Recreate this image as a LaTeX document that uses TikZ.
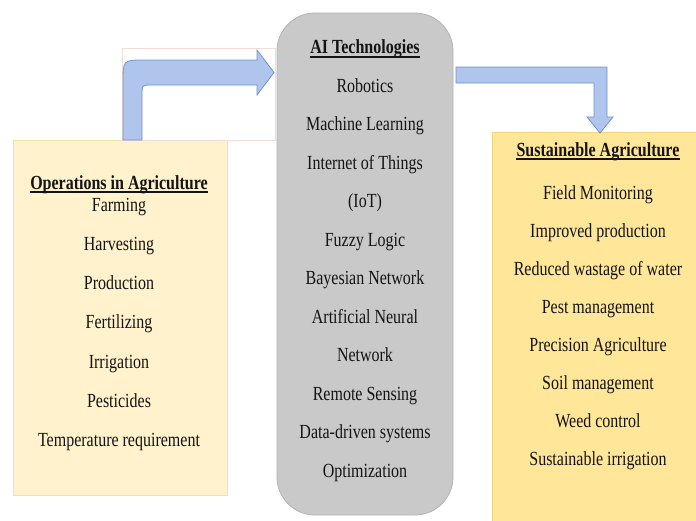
\documentclass[tikz,border=0pt]{standalone}
\usepackage{fontspec}
\setmainfont{Liberation Serif}[FakeStretch=0.8]
\usepackage{xcolor}
\usetikzlibrary{positioning}

\definecolor{opfill}{HTML}{FFF2CC}
\definecolor{opline}{HTML}{F2E2A6}
\definecolor{susfill}{HTML}{FFE699}
\definecolor{susline}{HTML}{F2D47E}
\definecolor{techfill}{HTML}{C9C9C9}
\definecolor{techline}{HTML}{B3B3B3}
\definecolor{arrfill}{HTML}{AFC5EC}
\definecolor{arrline}{HTML}{7392CB}
\definecolor{framecol}{HTML}{F3DDD4}
\definecolor{txt}{HTML}{141414}

\begin{document}
\begin{tikzpicture}[x=1pt, y=-1pt,
    item/.style={font=\fontsize{20}{23}\selectfont, text=txt, inner sep=0pt, anchor=base},
    head/.style={item, font=\fontsize{20}{23}\selectfont\bfseries},
    uline/.style={line width=1.3pt, draw=txt},
    bentarrow/.style={fill=arrfill, draw=arrline, line width=0.8pt, line join=miter}]

  \useasboundingbox (0,0) rectangle (696,520);

  % Left block: operations in agriculture
  \filldraw[fill=opfill, draw=opline, line width=0.8pt] (13,140) rectangle (227,495);
  \node[head] (ophead) at (119,189) {Operations in Agriculture};
  \draw[uline] ([yshift=-3pt]ophead.base west) -- ([yshift=-3pt]ophead.base east);
  \foreach \txt [count=\i from 0] in {Farming, Harvesting, Production, Fertilizing,
      Irrigation, Pesticides, Temperature requirement}
    \node[item] (op\i) at (119,{211+39.3*\i}) {\txt};

  % Middle block: AI technologies
  \filldraw[fill=techfill, draw=techline, line width=0.8pt, rounded corners=38pt]
    (277,13) rectangle (453,515);
  \node[head] (aihead) at (365,53) {AI Technologies};
  \draw[uline] ([yshift=-4pt]aihead.base west) -- ([yshift=-4pt]aihead.base east);
  \foreach \txt [count=\i from 0] in {Robotics, Machine Learning, Internet of Things,
      {(IoT)}, Fuzzy Logic, Bayesian Network, Artificial Neural, Network,
      Remote Sensing, Data-driven systems, Optimization}
    \node[item] (ai\i) at (365,{92+38.5*\i}) {\txt};

  % Right block: sustainable agriculture
  \filldraw[fill=susfill, draw=susline, line width=0.6pt] (492,132) rectangle (697,521);
  \node[head] (sushead) at (598,156) {Sustainable Agriculture};
  \draw[uline] ([yshift=-3pt]sushead.base west) -- ([yshift=-3pt]sushead.base east);
  \foreach \txt [count=\i from 0] in {Field Monitoring, Improved production,
      Reduced wastage of water, Pest management, Precision Agriculture,
      Soil management, Weed control, Sustainable irrigation}
    \node[item] (sus\i) at (598,{199+38*\i}) {\txt};

  % Bent arrow up and over into the middle block
  \draw[draw=framecol, line width=0.5pt] (122,48) rectangle (275,140);
  \filldraw[bentarrow] (123,140) -- (123,82) .. controls (123,60) .. (145,60)
    -- (257,60) -- (257,50) -- (274,72.5) -- (257,95) -- (257,85) -- (152,85)
    .. controls (142,85) .. (142,95) -- (142,140) -- cycle;

  % Bent arrow across and down into the right block
  \filldraw[bentarrow] (456,67) -- (607,67) -- (607,117) -- (613,117)
    -- (600,133) -- (587,117) -- (594,117) -- (594,83) -- (456,83) -- cycle;
\end{tikzpicture}
\end{document}
